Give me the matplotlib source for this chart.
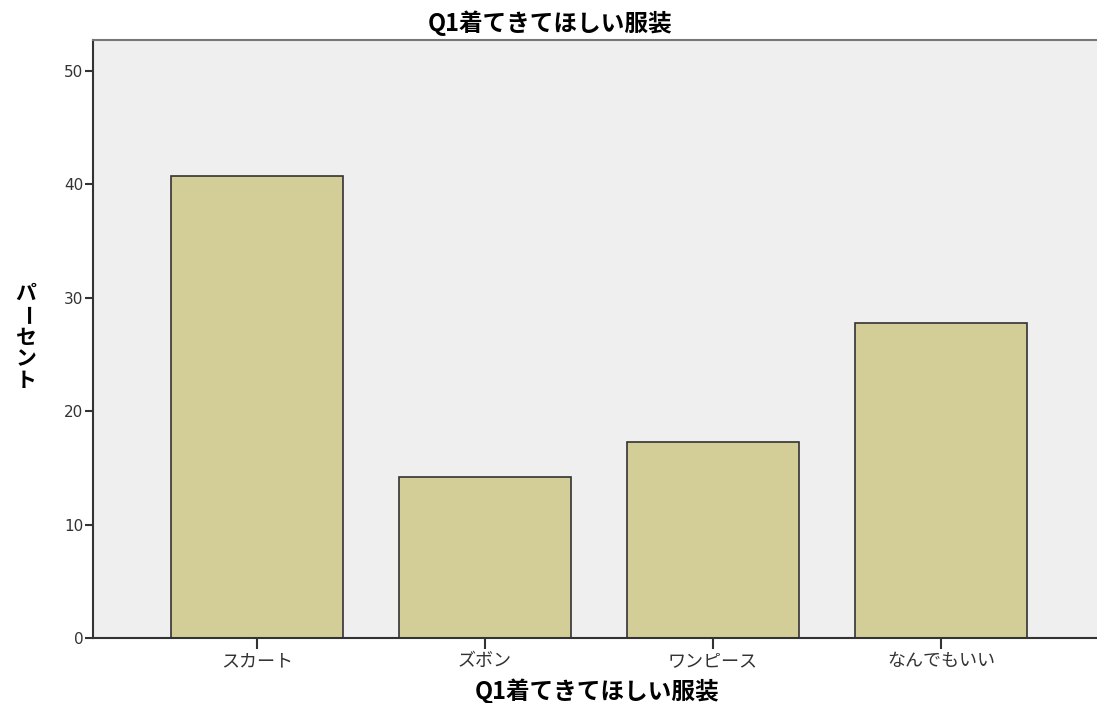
import matplotlib.pyplot as plt

plt.rcParams['font.family'] = ['Noto Sans CJK JP', 'DejaVu Sans']

# Q1 responses (percent)
categories = ['スカート', 'ズボン', 'ワンピース', 'なんでもいい']
percents = [40.7, 14.2, 17.3, 27.8]
title = 'Q1着てきてほしい服装'
ylabel_chars = ['パ', 'ー', 'セ', 'ン', 'ト']

W, H = 1097, 703
fig = plt.figure(figsize=(W / 100, H / 100), dpi=100)
ax = fig.add_axes([93 / W, 1 - 638 / H, 1012 / W, 598 / H])
ax.set_facecolor('#efefef')

x = range(len(categories))
ax.bar(x, percents, width=0.753, color='#d3ce98', edgecolor='#333333', linewidth=1.2, zorder=2)

ax.set_xlim(-0.72, 3.72)
ax.set_ylim(0, 52.7)
ax.set_yticks([0, 10, 20, 30, 40, 50])
ax.set_xticks(list(x))
ax.set_xticklabels(categories, fontsize=13)
ax.tick_params(axis='y', length=6, width=1.5, color='#333333', labelsize=11,
               labelcolor='#333333', pad=1, labelfontfamily='DejaVu Sans')
ax.tick_params(axis='x', length=8, width=1.5, color='#333333', labelcolor='#333333', pad=2)

for side in ['left', 'bottom']:
    ax.spines[side].set_color('#333333')
    ax.spines[side].set_linewidth(1.5)
ax.spines['top'].set_color('#777777')
ax.spines['top'].set_linewidth(1.5)
ax.spines['right'].set_visible(False)

fig.text(550 / W, 1 - 23 / H, title, fontsize=17, fontweight='bold', ha='center', va='center')
fig.text(597 / W, 1 - 691 / H, title, fontsize=17, fontweight='bold', ha='center', va='center')

# vertical y-axis label, one character per line
y0 = 1 - 293 / H
for i, ch in enumerate(ylabel_chars):
    rot = -90 if ch == 'ー' else 0
    fig.text(26 / W, y0 - i * 22 / H, ch, fontsize=15, fontweight='bold',
             ha='center', va='center', rotation=rot)

fig.savefig('out.png', dpi=100)
